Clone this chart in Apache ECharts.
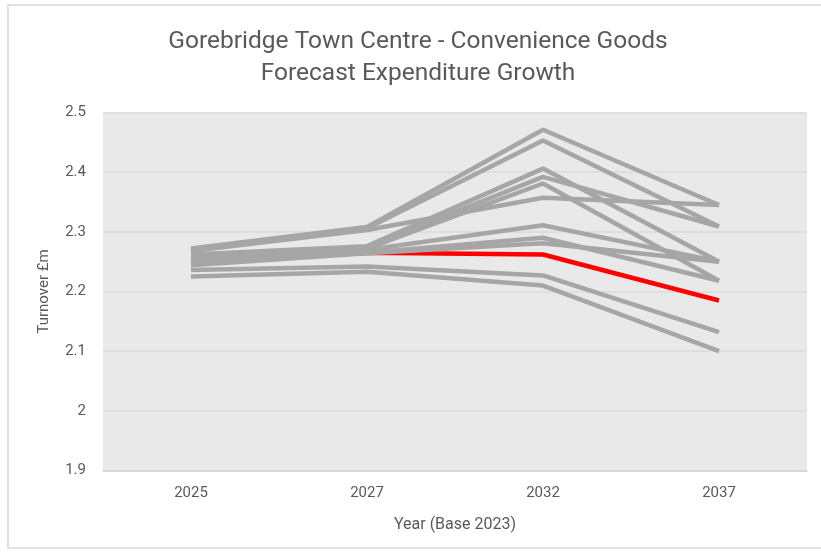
<!DOCTYPE html>
<html>
<head>
<meta charset="utf-8">
<script src="https://cdn.jsdelivr.net/npm/echarts@6/dist/echarts.min.js"></script>
<style>
  html, body { margin: 0; padding: 0; background: #ffffff; }
  #chart { width: 821px; height: 555px; }
</style>
</head>
<body>
<div id="chart"></div>
<script>
// Forecast years (x axis categories)
const years = ['2025', '2027', '2032', '2037'];

// Turnover (£m) per scenario, one array per scenario line
const scenarioA = [2.272, 2.308, 2.471, 2.345];
const scenarioB = [2.270, 2.306, 2.453, 2.309];
const scenarioC = [2.268, 2.303, 2.357, 2.345];
const scenarioD = [2.262, 2.276, 2.406, 2.250];
const scenarioE = [2.258, 2.274, 2.392, 2.309];
const scenarioF = [2.255, 2.272, 2.381, 2.218];
const scenarioG = [2.252, 2.270, 2.311, 2.250];
const scenarioH = [2.249, 2.265, 2.290, 2.218];
const scenarioI = [2.244, 2.264, 2.281, 2.250];
const scenarioJ = [2.236, 2.242, 2.227, 2.132];
const scenarioK = [2.225, 2.233, 2.210, 2.100];
// Central forecast, highlighted in red
const centralForecast = [2.249, 2.265, 2.262, 2.185];

const greyScenarios = [
  scenarioA, scenarioB, scenarioC, scenarioD, scenarioE, scenarioF,
  scenarioG, scenarioH, scenarioI, scenarioJ, scenarioK
];

// Value axis range and ticks
const yMin = 1.9;
const yMax = 2.5;
const yStep = 0.1;

const FONT = 'Roboto, "Open Sans", sans-serif';
const TEXT = '#595959';

const series = [];
// Red line drawn first so the grey lines sit over it where they coincide
series.push({
  type: 'line',
  name: 'Central',
  data: centralForecast,
  symbol: 'none',
  lineStyle: { color: '#ff0000', width: 4.5 },
  z: 2
});
greyScenarios.forEach(function (d, i) {
  series.push({
    type: 'line',
    name: 'Scenario ' + (i + 1),
    data: d,
    symbol: 'none',
    lineStyle: { color: '#a6a6a6', width: 4.5 },
    z: 3
  });
});

const chart = echarts.init(document.getElementById('chart'), null, { renderer: 'canvas' });
chart.setOption({
  animation: false,
  backgroundColor: '#ffffff',
  title: {
    text: 'Gorebridge Town Centre - Convenience Goods\nForecast Expenditure Growth',
    left: 413,
    textAlign: 'center',
    top: 21,
    textStyle: {
      fontFamily: FONT,
      fontSize: 24.5,
      fontWeight: 'normal',
      color: TEXT,
      lineHeight: 32
    }
  },
  graphic: [{
    type: 'rect',
    shape: { x: 8, y: 5, width: 830, height: 543 },
    style: { fill: 'none', stroke: '#d9d9d9', lineWidth: 1.5 },
    silent: true,
    z: -1
  }],
  grid: {
    left: 103,
    right: 14,
    top: 112.5,
    bottom: 84.5,
    show: true,
    backgroundColor: '#e9e9e9',
    borderWidth: 0
  },
  xAxis: {
    type: 'category',
    data: years,
    boundaryGap: true,
    name: 'Year (Base 2023)',
    nameLocation: 'middle',
    nameGap: 46,
    nameTextStyle: { fontFamily: FONT, fontSize: 16, color: TEXT },
    axisLine: { show: true, lineStyle: { color: '#d4d4d4', width: 1.5 } },
    axisTick: { show: false },
    axisLabel: { fontFamily: FONT, fontSize: 15, color: TEXT, margin: 15 },
    splitLine: { show: false }
  },
  yAxis: {
    type: 'value',
    min: yMin,
    max: yMax,
    interval: yStep,
    name: 'Turnover £m',
    nameLocation: 'middle',
    nameGap: 51,
    nameRotate: 90,
    nameTextStyle: { fontFamily: FONT, fontSize: 15, color: TEXT },
    axisLine: { show: false },
    axisTick: { show: false },
    axisLabel: {
      fontFamily: FONT, fontSize: 15, color: TEXT, margin: 17,
      formatter: function (v) { return parseFloat(v.toFixed(1)).toString(); }
    },
    splitLine: { lineStyle: { color: '#dadada', width: 1.5 } }
  },
  series: series
});
</script>
</body>
</html>
